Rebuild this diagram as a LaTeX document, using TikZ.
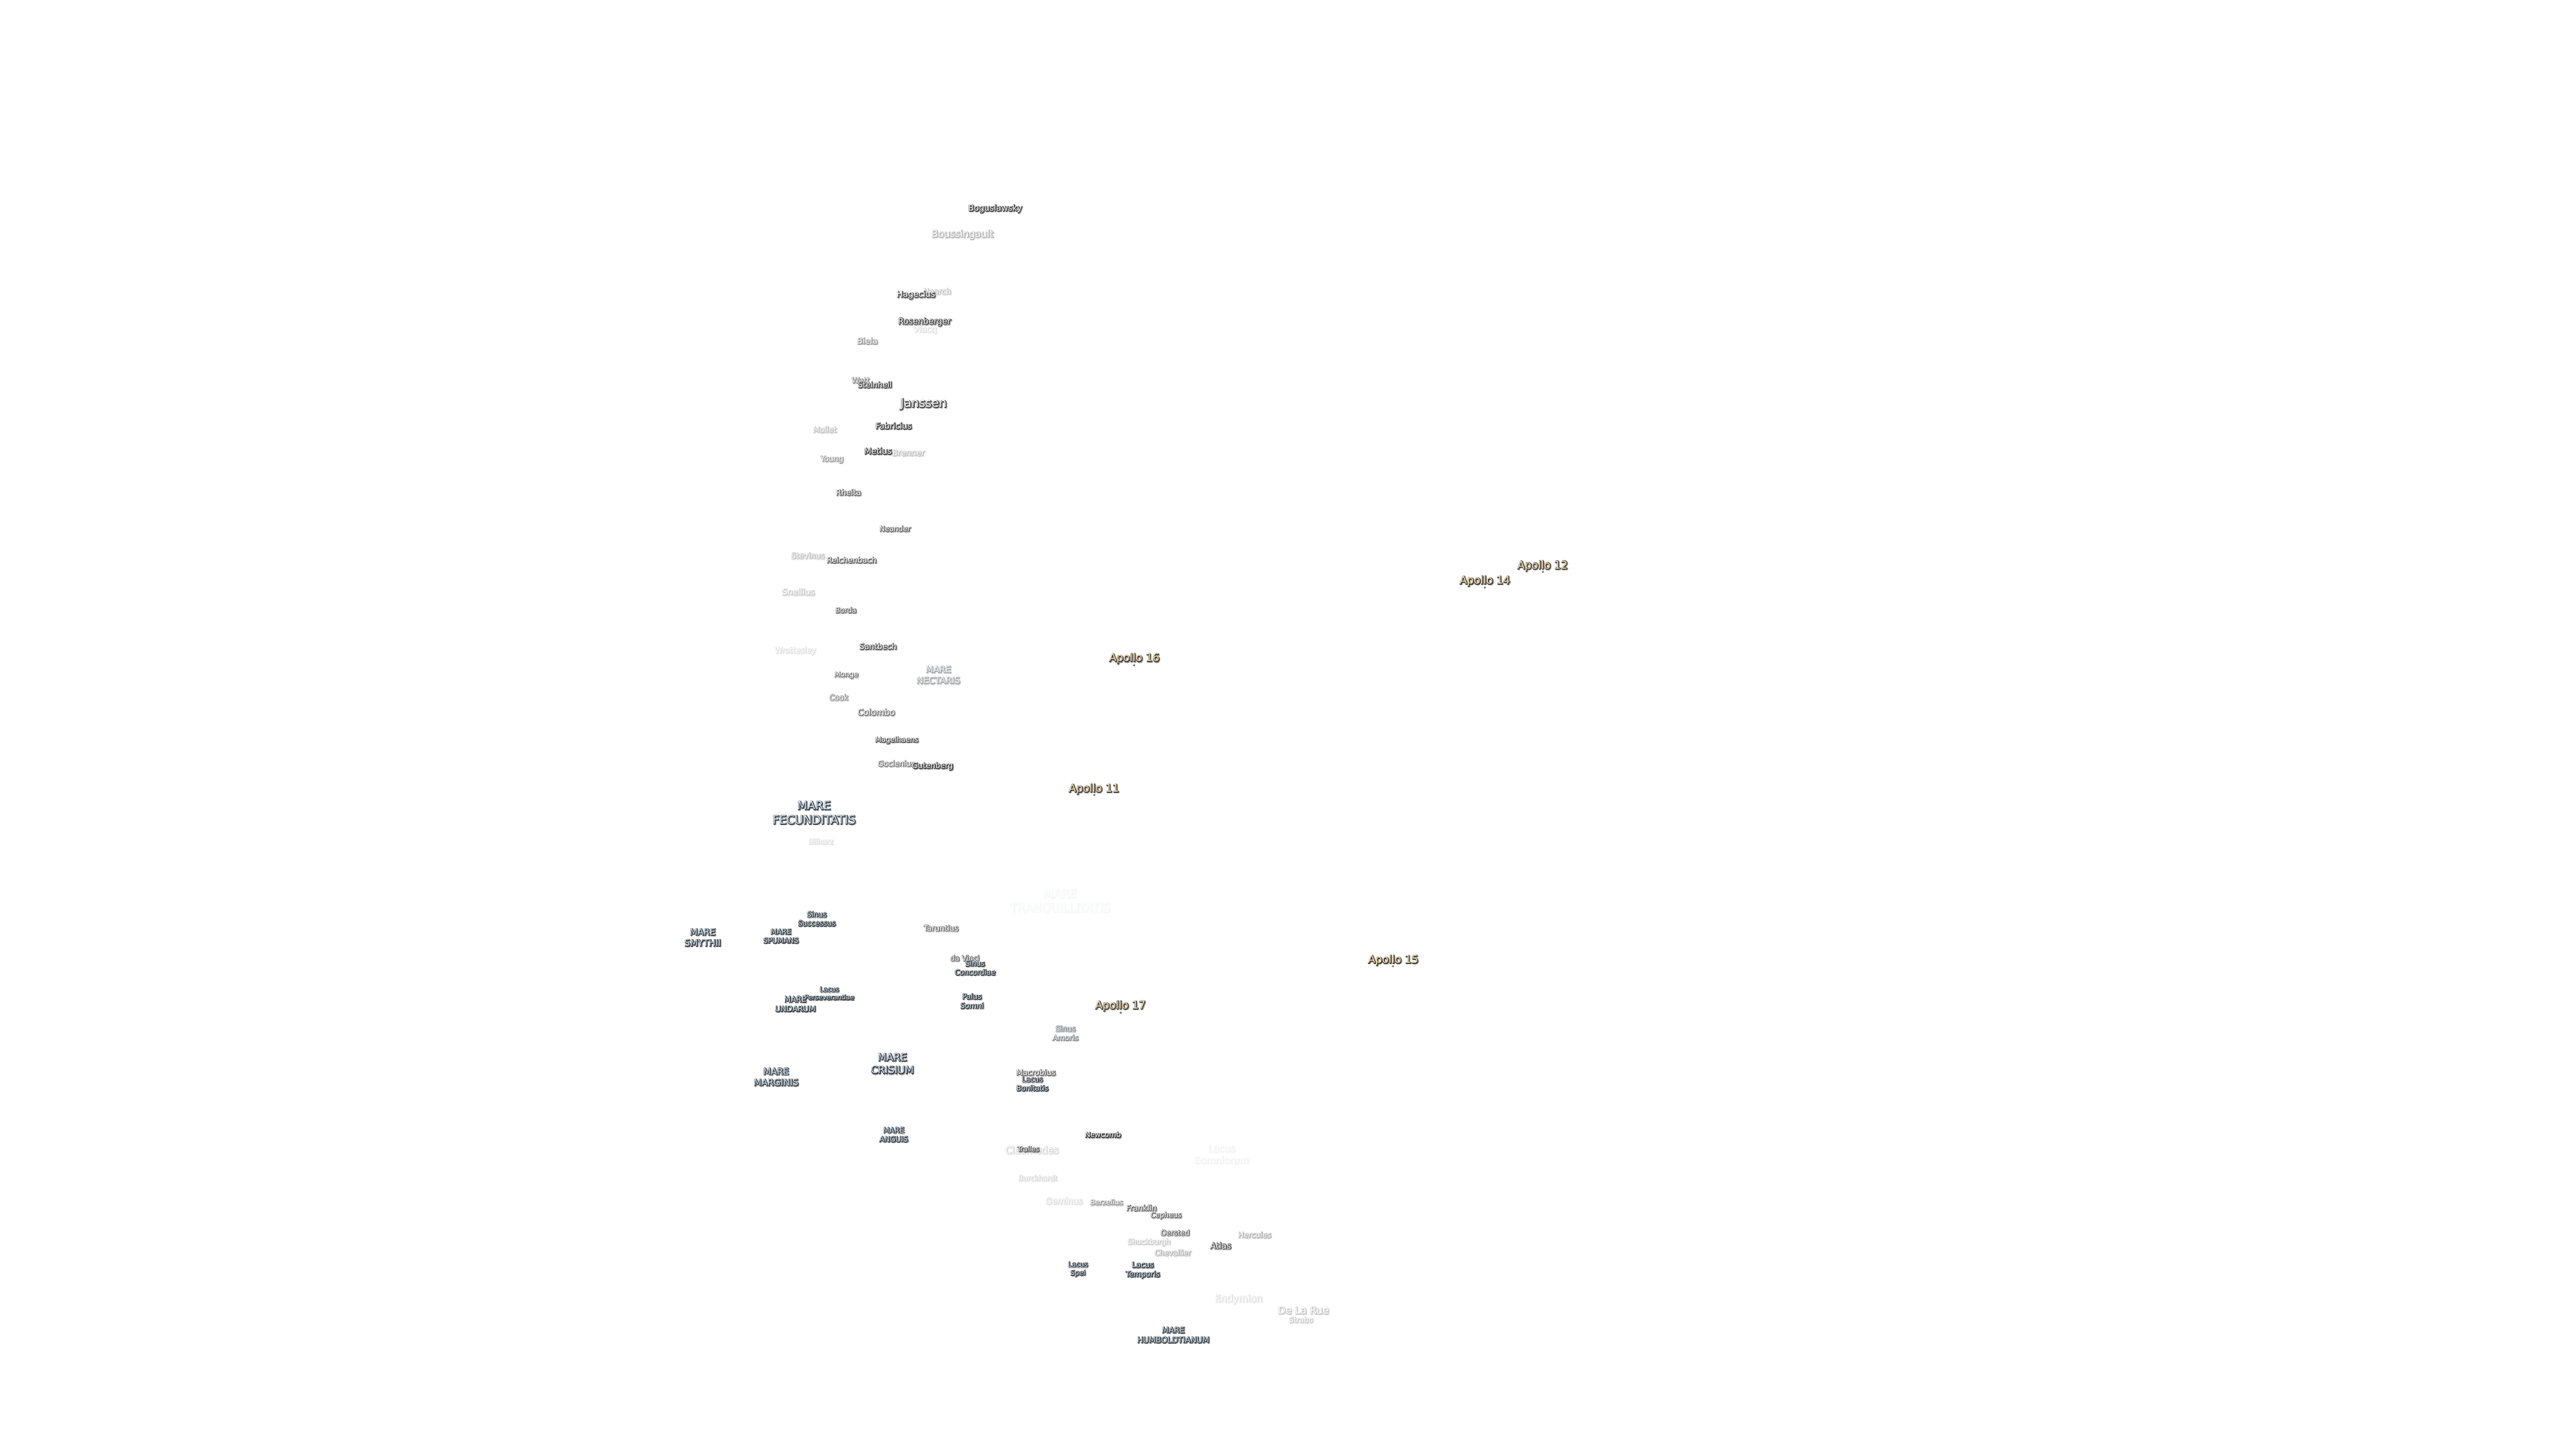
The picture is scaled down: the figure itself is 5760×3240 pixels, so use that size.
\documentclass[tikz,border=0pt]{standalone}
\usepackage{fontspec}
\setmainfont{DejaVu Sans}
\usetikzlibrary{positioning}

\definecolor{shadowgray}{HTML}{3C3C3C}
\definecolor{marefill}{HTML}{CFE6FA}
\definecolor{apollofill}{HTML}{FFE2B0}

\tikzset{
    basename/.style={inner sep=0pt, align=center, shift={(0,1.5)}, font=\fontsize{\labelfs}{\labells}\selectfont},
    softshadow/.style={basename, text=shadowgray!50, shift={(1.8,1.8)}},
    hardshadow/.style={basename, text=shadowgray, shift={(0.8,0.8)}},
    crater/.style={basename, text=white},
    mare/.style={basename, text=marefill},
    apollo/.style={basename, text=apollofill},
    sitedot/.style={circle, inner sep=0pt, minimum size=1pt, fill=apollofill, draw=shadowgray, line width=0.25pt}
}

% style, name, x, y, opacity, size in px, text
\newcommand{\moonlabel}[7][crater]{
    \pgfmathsetmacro{\labelfs}{#6*0.2845}
    \pgfmathsetmacro{\labells}{#6*0.35}
    \pgfmathsetmacro{\labelop}{min(1,#5*1.25)}
    \begin{scope}[transparency group, opacity=\labelop]
        \foreach \ang in {0,60,...,300}
            \node[softshadow, shift={(\ang:2)}] (#2s\ang) at (#3,#4) {#7};
        \foreach \ang in {30,90,...,330}
            \node[hardshadow, shift={(\ang:1.2)}] (#2h\ang) at (#3,#4) {#7};
        \node[#1] (#2) at (#3,#4) {#7};
    \end{scope}
}

\begin{document}
\begin{tikzpicture}[x=0.01cm, y=-0.01cm]
    \useasboundingbox (0,0) rectangle (5760,3240);
    \fill[white] (0,0) rectangle (5760,3240);

    % faint labels go first
    \moonlabel[mare]{tranq}{2370}{2014}{0.03}{26}{MARE\\TRANQUILLITATIS}
    \moonlabel{somniorum}{2731}{2580}{0.05}{21}{Lacus\\Somniorum}
    \moonlabel{cleomedes}{2307}{2570}{0.16}{21.4}{Cleomedes}
    \moonlabel{nearch}{2095}{650}{0.25}{17.4}{Nearch}
    \moonlabel{vlacq}{2068}{736}{0.12}{18.7}{Vlacq}
    \moonlabel{watt}{1924}{849}{0.5}{17}{Watt}
    \moonlabel{brenner}{2031}{1011}{0.25}{18.2}{Brenner}
    \moonlabel{goclenius}{2004}{1706}{0.5}{17}{Goclenius}

    % south end
    \moonlabel{boguslawsky}{2225}{465}{0.85}{18.6}{Boguslawsky}
    \moonlabel{boussingault}{2152}{523}{0.3}{21.5}{Boussingault}
    \moonlabel{hagecius}{2048}{658}{0.7}{18.7}{Hagecius}
    \moonlabel{rosenberger}{2067}{718}{0.85}{18.6}{Rosenberger}
    \moonlabel{biela}{1939}{761}{0.4}{18.6}{Biela}
    \moonlabel{steinheil}{1956}{859}{0.75}{17.4}{Steinheil}
    \moonlabel{janssen}{2065}{902}{1}{27}{Janssen}
    \moonlabel{fabricius}{1998}{951}{0.85}{18.3}{Fabricius}
    \moonlabel{mallet}{1844}{959}{0.25}{17.3}{Mallet}
    \moonlabel{metius}{1963}{1007}{0.9}{18.7}{Metius}
    \moonlabel{young}{1860}{1026}{0.4}{17}{Young}
    \moonlabel{rheita}{1897}{1100}{0.6}{17.3}{Rheita}
    \moonlabel{neander}{2001}{1181}{0.6}{16.3}{Neander}
    \moonlabel{stevinus}{1806}{1241}{0.25}{17.4}{Stevinus}
    \moonlabel{reichenbach}{1904}{1251}{0.6}{17.3}{Reichenbach}
    \moonlabel{snellius}{1785}{1322}{0.2}{18.8}{Snellius}
    \moonlabel{borda}{1891}{1363}{0.6}{16}{Borda}
    \moonlabel{santbech}{1963}{1444}{0.7}{17.6}{Santbech}
    \moonlabel{wrottesley}{1778}{1454}{0.12}{17.2}{Wrottesley}
    \moonlabel{monge}{1892}{1508}{0.5}{16}{Monge}
    \moonlabel[mare]{nectaris}{2098}{1508}{0.35}{19.7}{MARE\\NECTARIS}
    \moonlabel{cook}{1875}{1558}{0.45}{17}{Cook}
    \moonlabel{colombo}{1959}{1591}{0.55}{18.8}{Colombo}
    \moonlabel{magelhaens}{2005}{1654}{0.65}{16}{Magelhaens}
    \moonlabel{gutenberg}{2085}{1712}{1}{17.2}{Gutenberg}
    \moonlabel[mare]{fecunditatis}{1820}{1816}{1}{26}{MARE\\FECUNDITATIS}
    \moonlabel{bilharz}{1835}{1880}{0.12}{16}{Bilharz}

    % seas around Crisium
    \moonlabel[mare]{smythii}{1571}{2095}{1}{20}{MARE\\SMYTHII}
    \moonlabel[mare]{spumans}{1746}{2092}{1}{16}{MARE\\SPUMANS}
    \moonlabel[mare]{successus}{1826}{2053}{1}{16.2}{Sinus\\Successus}
    \moonlabel{taruntius}{2104}{2074}{0.55}{17}{Taruntius}
    \moonlabel{davinci}{2157}{2141}{0.6}{16.3}{da Vinci}
    \moonlabel[mare]{concordiae}{2180}{2163}{1}{16.1}{Sinus\\Concordiae}
    \moonlabel[mare]{undarum}{1778}{2244}{1}{17.4}{MARE\\UNDARUM}
    \moonlabel[mare]{perseverantiae}{1854}{2220}{1}{14.8}{Lacus\\Perseverantiae}
    \moonlabel[mare]{somni}{2173}{2237}{1}{16.6}{Palus\\Somni}
    \moonlabel[mare]{crisium}{1995}{2377}{1}{22.8}{MARE\\CRISIUM}
    \moonlabel[mare]{marginis}{1735}{2407}{1}{20}{MARE\\MARGINIS}
    \moonlabel[mare]{anguis}{1998}{2536}{1}{16.5}{MARE\\ANGUIS}
    \moonlabel[mare]{amoris}{2382}{2309}{0.45}{16.6}{Sinus\\Amoris}
    \moonlabel{macrobius}{2316}{2397}{0.6}{17.2}{Macrobius}
    \moonlabel[mare]{bonitatis}{2308}{2422}{1}{16.2}{Lacus\\Bonitatis}

    % north end
    \moonlabel{newcomb}{2466}{2536}{0.8}{16.2}{Newcomb}
    \moonlabel{tralles}{2299}{2568}{0.65}{15.3}{Tralles}
    \moonlabel{burckhardt}{2320}{2633}{0.15}{15.8}{Burckhardt}
    \moonlabel{geminus}{2379}{2684}{0.12}{18.8}{Geminus}
    \moonlabel{berzelius}{2474}{2687}{0.4}{16}{Berzelius}
    \moonlabel{franklin}{2552}{2700}{0.6}{17.2}{Franklin}
    \moonlabel{cepheus}{2607}{2717}{0.6}{15.9}{Cepheus}
    \moonlabel{oersted}{2627}{2755}{0.6}{16.3}{Oersted}
    \moonlabel{hercules}{2805}{2760}{0.3}{17}{Hercules}
    \moonlabel{shuckburgh}{2569}{2777}{0.2}{16}{Shuckburgh}
    \moonlabel{atlas}{2729}{2784}{0.7}{18.9}{Atlas}
    \moonlabel{chevallier}{2622}{2800}{0.3}{16.2}{Chevallier}
    \moonlabel[mare]{spei}{2410}{2837}{1}{15.4}{Lacus\\Spei}
    \moonlabel[mare]{temporis}{2555}{2839}{1}{17}{Lacus\\Temporis}
    \moonlabel{endymion}{2769}{2904}{0.12}{21.2}{Endymion}
    \moonlabel{delarue}{2914}{2929}{0.22}{22.4}{De La Rue}
    \moonlabel{strabo}{2909}{2950}{0.2}{16.3}{Strabo}
    \moonlabel[mare]{humboldtianum}{2623}{2984}{1}{17.8}{MARE\\HUMBOLDTIANUM}

    % landing sites
    \moonlabel[apollo]{apollotwelve}{3449}{1264}{1}{24}{Apollo 12}
    \moonlabel[apollo]{apollofourteen}{3320}{1298}{1}{24}{Apollo 14}
    \moonlabel[apollo]{apollosixteen}{2536}{1471}{1}{24}{Apollo 16}
    \moonlabel[apollo]{apolloeleven}{2446}{1763}{1}{24}{Apollo 11}
    \moonlabel[apollo]{apollofifteen}{3115}{2146}{1}{24}{Apollo 15}
    \moonlabel[apollo]{apolloseventeen}{2505}{2248}{1}{24}{Apollo 17}
    \node[sitedot] (sitetwelve) at (3450,1279) {};
    \node[sitedot] (sitefourteen) at (3320,1314) {};
    \node[sitedot] (sitesixteen) at (2536,1488) {};
    \node[sitedot] (siteeleven) at (2447,1778) {};
    \node[sitedot] (sitefifteen) at (3115,2161) {};
    \node[sitedot] (siteseventeen) at (2506,2265) {};
\end{tikzpicture}
\end{document}
